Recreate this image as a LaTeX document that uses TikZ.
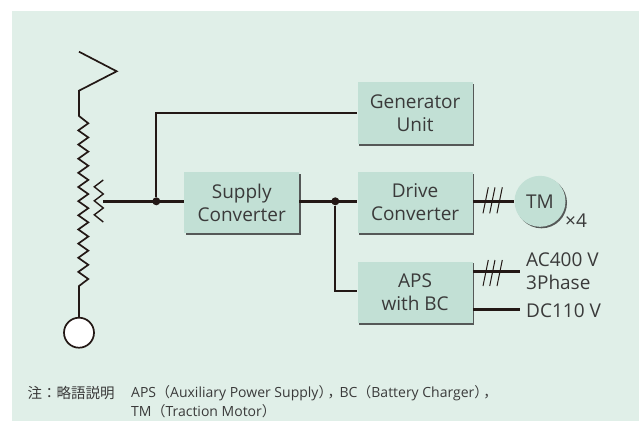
\documentclass[tikz,border=0pt]{standalone}
\usepackage{fontspec}
\setmainfont{Open Sans}
\newfontfamily\cjkfont{Noto Sans CJK JP}
\usetikzlibrary{positioning,shadows}

\definecolor{panelgreen}{HTML}{E0EFE8}
\definecolor{boxgreen}{HTML}{C2E0D5}
\definecolor{wireblack}{HTML}{231815}
\definecolor{labelgray}{HTML}{3A3A3A}

\begin{document}
\begin{tikzpicture}[
  x=1pt,y=-1pt,
  node distance=28pt and 58pt,
  unit/.style={fill=boxgreen,text=labelgray,minimum width=115pt,minimum height=61.5pt,inner sep=0pt,align=center,
    font=\fontsize{19}{23}\selectfont,drop shadow={shadow xshift=1.8pt,shadow yshift=-1.8pt,fill=black!80,opacity=.8}},
  volt/.style={text=labelgray,inner sep=0pt,align=left,anchor=west,font=\fontsize{19}{23}\selectfont},
  joint/.style={circle,fill=wireblack,inner sep=0pt,minimum size=8pt},
  wire/.style={draw=wireblack,line width=1.7pt},
  bus/.style={draw=wireblack,line width=3pt},
  slash/.style={draw=wireblack,line width=1pt}
]
  \useasboundingbox (0,0) rectangle (639,421);
  \fill[panelgreen] (12,11) rectangle (639,421);

  \node[unit,anchor=north west] (supply) at (184,171.5) {Supply\\Converter};
  \node[unit,right=of supply] (drive) {Drive\\Converter};
  \node[unit,above=27.5pt of drive] (generator) {Generator\\Unit};
  \node[unit,below=of drive] (aps) {APS\\with BC};
  \node[circle,minimum size=51pt,inner sep=0pt,fill=boxgreen,text=labelgray,font=\fontsize{19}{23}\selectfont,
    drop shadow={shadow xshift=1.5pt,shadow yshift=-1.5pt,fill=black!80,opacity=.8}] (tm) at (540,201.3) {TM};
  \node[volt] (times) at (565,221) {×4};
  \node[volt] (ac) at (526,271) {AC400 V\\3Phase};
  \node[volt] (dc) at (526,310.5) {DC110 V};
  \node[circle,draw=wireblack,line width=1.7pt,fill=white,minimum size=30pt,inner sep=0pt] (earth) at (79,332.7) {};

  \coordinate (tap) at (103.3,201.3);
  \coordinate (coiltop) at (79,116);
  \coordinate (coilend) at (79,286);
  \node[joint] (feed) at (156.3,201.3) {};
  \node[joint] (branch) at (335.3,201.3) {};

  % pantograph and main coil
  \draw[wire] (79,51.7) -- (116.7,71.3) -- (79,90.7) -- (coiltop)
    \foreach \k in {0,...,10} { -- (88.3,{123.3+14.15*\k}) -- (78.3,{130.4+14.15*\k}) }
    -- (88.3,279) -- (coilend) -- (earth);
  % secondary coil
  \draw[wire,line width=1.4pt] (103.3,180)
    \foreach \k in {0,1,2} { -- (94.3,{186.8+14*\k}) -- (103.3,{194+14*\k}) };

  \draw[bus] (tap) -- (tap -| supply.west);
  \draw[bus] (tap -| supply.east) -- (tap -| drive.west);
  \draw[bus] (tap -| drive.east) -- (tm);
  \draw[wire] (feed) |- (generator);
  \draw[wire] (branch) |- ([yshift=1.5pt]aps.west);

  \coordinate (acend) at (520,271.3);
  \coordinate (dcend) at (520,309.3);
  \draw[bus] (aps.east |- acend) -- (acend);
  \draw[bus] (aps.east |- dcend) -- (dcend);

  \foreach \x in {488.3,495,502.3} {
    \draw[slash] (\x,187.3) -- ++(-5.3,26);
    \draw[slash] (\x,260) -- ++(-5.3,26);
  }

  \node[anchor=west,inner sep=0pt,text=labelgray,font=\fontsize{14.5}{18}\selectfont\cjkfont] (notehead) at (27.5,393.5) {注：略語説明};
  \node[anchor=north west,inner sep=0pt,text=labelgray,align=left,font=\fontsize{14}{19.5}\selectfont] (notebody) at (131,385)
    {APS{\cjkfont（}Auxiliary Power Supply{\cjkfont）\kern-5pt，\kern-2pt}BC{\cjkfont（}Battery Charger{\cjkfont）\kern-5pt，}\\TM{\cjkfont（}Traction Motor{\cjkfont）}};
\end{tikzpicture}
\end{document}
